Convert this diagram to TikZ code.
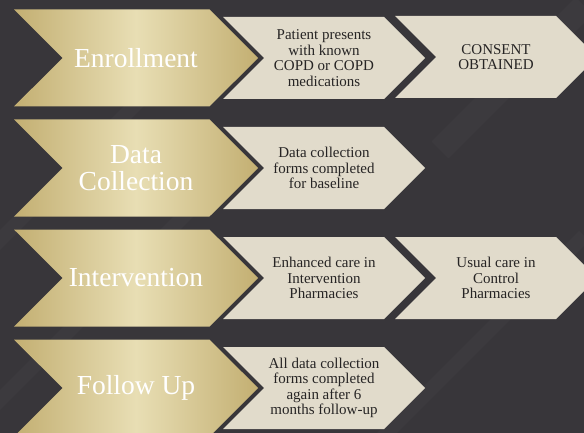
\documentclass[tikz,border=0pt]{standalone}
\usepackage{fontspec}
\setmainfont{Liberation Serif}
\usetikzlibrary{shapes.symbols,positioning}

\definecolor{bgdark}{HTML}{38363A}
\definecolor{goldlight}{HTML}{E8DEB4}
\definecolor{golddark}{HTML}{C3AF72}
\definecolor{paper}{HTML}{E1DBCB}
\definecolor{inkdark}{HTML}{262424}

\tikzset{
  phase/.style={signal, signal from=west, signal to=east, signal pointer angle=90,
    minimum width=244pt, minimum height=97pt, inner sep=0pt, outer sep=0pt,
    left color=golddark, right color=golddark, middle color=goldlight, text=white,
    font=\fontsize{27.5}{27}\selectfont, align=center},
  task/.style={signal, signal from=west, signal to=east, signal pointer angle=90,
    minimum width=202pt, minimum height=82pt, inner sep=0pt, outer sep=0pt,
    fill=paper, text=inkdark, font=\fontsize{15}{15.5}\selectfont, align=center},
  streak/.style={line width=14pt, white, opacity=0.025}
}

\begin{document}
\begin{tikzpicture}[x=1pt,y=-1pt]
\useasboundingbox (0,0) rectangle (584,433);
\clip (0,0) rectangle (584,433);
\fill[bgdark] (0,0) rectangle (584,433);
% faint diagonal streaks
\draw[streak] (-20,260) -- (160,80);
\draw[streak] (-20,420) -- (200,200);
\draw[streak] (380,440) -- (584,236);
\draw[streak,line width=24pt] (440,150) -- (584,6);

% phases
\node[phase] (enrol) at (136,58) {Enrollment};
\node[phase] (data) at (136,168) {Data\\Collection};
\node[phase] (interv) at (136,278) {Intervention};
\node[phase] (follow) at (136,388) {Follow Up};

% tasks
\node[task] (patient) at (324,58) {Patient presents\\with known\\COPD or COPD\\medications};
\node[task] (consent) at (496,57) {CONSENT\\OBTAINED};
\node[task] (forms) at (324,168) {Data collection\\forms completed\\for baseline};
\node[task] (enhanced) at (324,278) {Enhanced care in\\Intervention\\Pharmacies};
\node[task] (usual) at (496,278) {Usual care in\\Control\\Pharmacies};
\node[task] (again) at (324,388) {All data collection\\forms completed\\again after 6\\months follow-up};
\end{tikzpicture}
\end{document}
